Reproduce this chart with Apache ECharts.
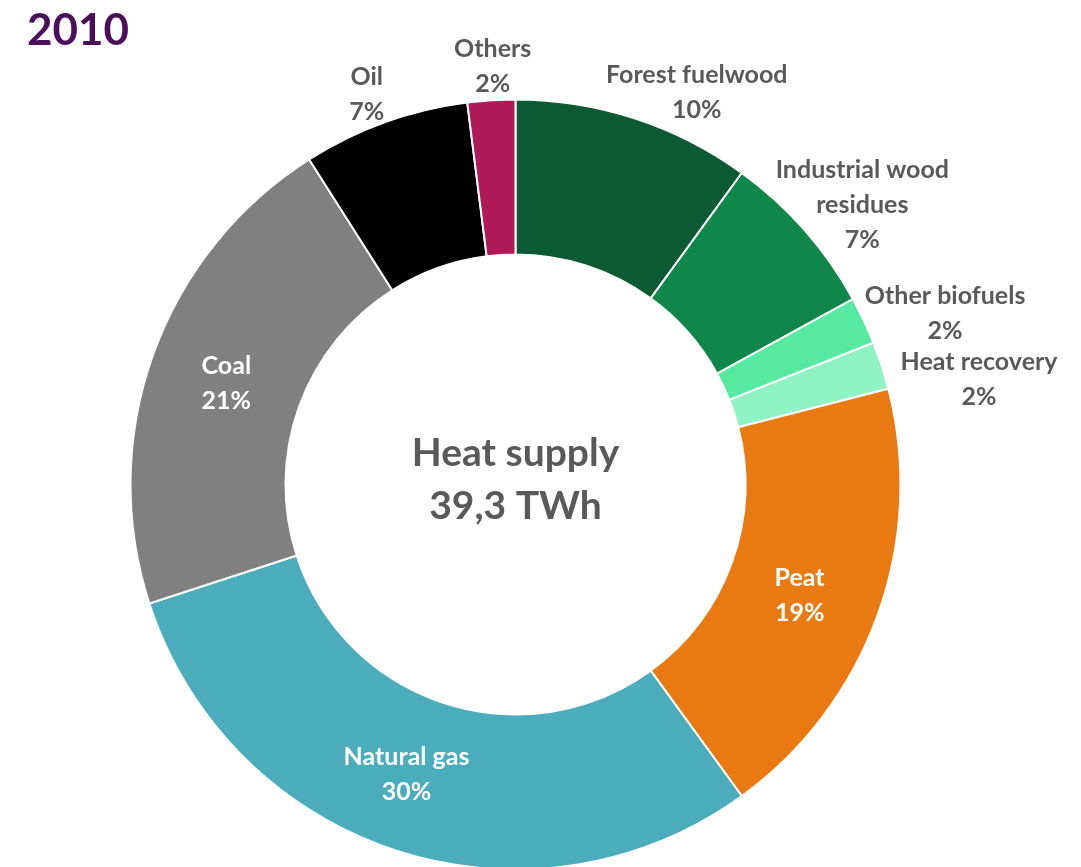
<!DOCTYPE html>
<html>
<head>
<meta charset="utf-8">
<script src="https://cdn.jsdelivr.net/npm/echarts@6/dist/echarts.min.js"></script>
<style>
  html, body { margin: 0; padding: 0; background: #ffffff; }
  #chart { width: 1081px; height: 867px; }
</style>
</head>
<body>
<div id="chart"></div>
<script>
// Heat supply by energy source, 2010 (share of 39,3 TWh, %)
const categories = ['Forest fuelwood', 'Industrial wood\nresidues', 'Other biofuels', 'Heat recovery',
  'Peat', 'Natural gas', 'Coal', 'Oil', 'Others'];
const shares = [10, 7, 2, 2, 19, 30, 21, 7, 2];
const colors = ['#0b5a34', '#10864a', '#55eaa0', '#8ff2c2', '#e97a12', '#4bacbc', '#808080', '#000000', '#b01a58'];
const insideLabels = ['Peat', 'Natural gas', 'Coal'];
const yearTitle = '2010';
const centerText = 'Heat supply\n39,3 TWh';

const CX = 515.5, CY = 484.5, R_IN = 230, R_OUT = 385;
const FONT = 'Lato, "Open Sans", sans-serif';

// fine adjustments of label placement, per slice [dx, dy]
const labelNudge = {
  'Forest fuelwood': [33, 11],
  'Industrial wood\nresidues': [-10, 12],
  'Other biofuels': [5, 9],
  'Heat recovery': [19, 26],
  'Others': [4, 5],
  'Oil': [-11, 9],
  'Peat': [-8, 6],
  'Natural gas': [-13, -5],
  'Coal': [3, 4]
};

// mid angle of each slice, clockwise from 12 o'clock
const total = shares.reduce((a, b) => a + b, 0);
const midAngles = [];
let acc = 0;
shares.forEach(v => {
  midAngles.push(((acc + v / 2) / total) * 2 * Math.PI);
  acc += v;
});

const data = categories.map((name, i) => {
  const inside = insideLabels.includes(name);
  return {
    name: name,
    value: shares[i],
    itemStyle: { color: colors[i] },
    label: { color: inside ? '#ffffff' : '#595959' }
  };
});

const chart = echarts.init(document.getElementById('chart'), null, { renderer: 'canvas' });
chart.setOption({
  animation: false,
  backgroundColor: '#ffffff',
  title: {
    text: yearTitle,
    left: 22,
    top: 4,
    textStyle: { fontFamily: FONT, fontWeight: 'bold', fontSize: 44, color: '#4a0e5a' }
  },
  graphic: [{
    type: 'text',
    x: CX,
    y: CY - 5,
    style: {
      text: centerText,
      fontFamily: FONT,
      fontWeight: 'bold',
      fontSize: 39,
      lineHeight: 53,
      fill: '#595959',
      align: 'center',
      verticalAlign: 'middle'
    }
  }],
  series: [{
    type: 'pie',
    center: [CX, CY],
    radius: [R_IN, R_OUT],
    startAngle: 90,
    clockwise: true,
    data: data,
    itemStyle: { borderColor: '#ffffff', borderWidth: 2 },
    label: {
      show: true,
      position: 'inside',
      fontFamily: FONT,
      fontWeight: 'bold',
      fontSize: 25,
      lineHeight: 35,
      align: 'center',
      formatter: p => p.name + '\n' + p.value + '%'
    },
    labelLine: { show: false },
    emphasis: { disabled: true },
    labelLayout: function (p) {
      const i = p.dataIndex;
      const name = categories[i];
      const nudge = labelNudge[name] || [0, 0];
      if (insideLabels.includes(name)) {
        return { dx: nudge[0], dy: nudge[1] };
      }
      // outside labels sit just beyond the ring, pushed out along the slice's mid angle
      const a = midAngles[i];
      const s = Math.sin(a), c = Math.cos(a);
      const w = p.labelRect.width, h = p.labelRect.height;
      const R = R_OUT + 4;
      return {
        x: CX + R * s + s * w / 2 + nudge[0],
        y: CY - R * c - c * h / 2 + nudge[1],
        align: 'center',
        verticalAlign: 'middle'
      };
    }
  }]
});
</script>
</body>
</html>
